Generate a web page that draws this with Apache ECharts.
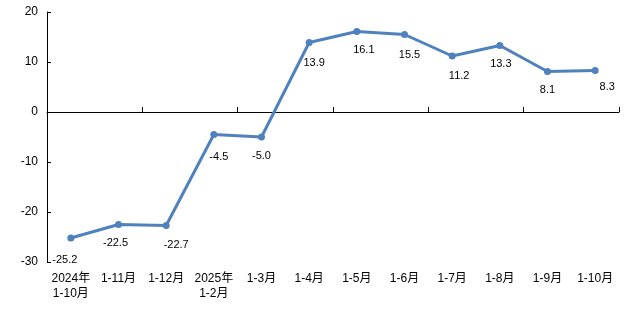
<!DOCTYPE html>
<html>
<head>
<meta charset="utf-8">
<script src="https://cdn.jsdelivr.net/npm/echarts@6/dist/echarts.min.js"></script>
<style>
  html, body { margin: 0; padding: 0; background: #fff; }
  #chart { width: 637px; height: 328px; }
</style>
</head>
<body>
<div id="chart"></div>
<script>
// categories and values
const categories = ['2024年\n1-10月', '1-11月', '1-12月', '2025年\n1-2月', '1-3月', '1-4月',
  '1-5月', '1-6月', '1-7月', '1-8月', '1-9月', '1-10月'];
const values = [-25.2, -22.5, -22.7, -4.5, -5.0, 13.9, 16.1, 15.5, 11.2, 13.3, 8.1, 8.3];
const yTicks = [-30, -20, -10, 0, 10, 20];

// small nudges of the value labels, as in the original
const labelNudge = [[-6, 3], [-3, -1], [10, 0], [5, 3], [0, 0], [5, 1],
  [7, -1], [5, 1], [7, 1], [1, -1], [0, -1], [12, -3]];

const font = "'Liberation Sans', 'Noto Sans CJK SC', sans-serif";
const blue = '#4f81bd';

let chart = echarts.init(document.getElementById('chart'));
let option = {
  animation: false,
  grid: { left: 47, right: 18, top: 12, bottom: 66 },
  xAxis: [
    {
      type: 'category',
      data: categories,
      boundaryGap: true,
      axisLine: { onZero: true, lineStyle: { color: '#000', width: 1 } },
      axisTick: { show: true, inside: true, length: 5, alignWithLabel: false, lineStyle: { color: '#000' } },
      axisLabel: { show: false }
    },
    {
      type: 'category',
      data: categories,
      position: 'bottom',
      boundaryGap: true,
      axisLine: { show: false },
      axisTick: { show: false },
      axisLabel: {
        interval: 0, margin: 9, color: '#000',
        fontSize: 12, fontFamily: font, lineHeight: 15
      }
    }
  ],
  yAxis: {
    type: 'value',
    min: yTicks[0],
    max: yTicks[yTicks.length - 1],
    interval: 10,
    splitLine: { show: false },
    axisLine: { show: true, lineStyle: { color: '#000' } },
    axisTick: { show: true, inside: true, length: 4, lineStyle: { color: '#000' } },
    axisLabel: { color: '#000', fontSize: 12, fontFamily: font, margin: 9 }
  },
  series: [
    {
      type: 'line',
      xAxisIndex: 0,
      data: values.map((v, i) => ({
        value: v,
        label: { offset: labelNudge[i] }
      })),
      symbol: 'circle',
      symbolSize: 7,
      lineStyle: { color: blue, width: 3 },
      itemStyle: { color: blue },
      label: {
        show: true,
        position: 'bottom',
        distance: 10,
        color: '#000',
        fontSize: 11,
        fontFamily: font,
        formatter: p => p.value.toFixed(1)
      }
    }
  ]
};
chart.setOption(option);
</script>
</body>
</html>
